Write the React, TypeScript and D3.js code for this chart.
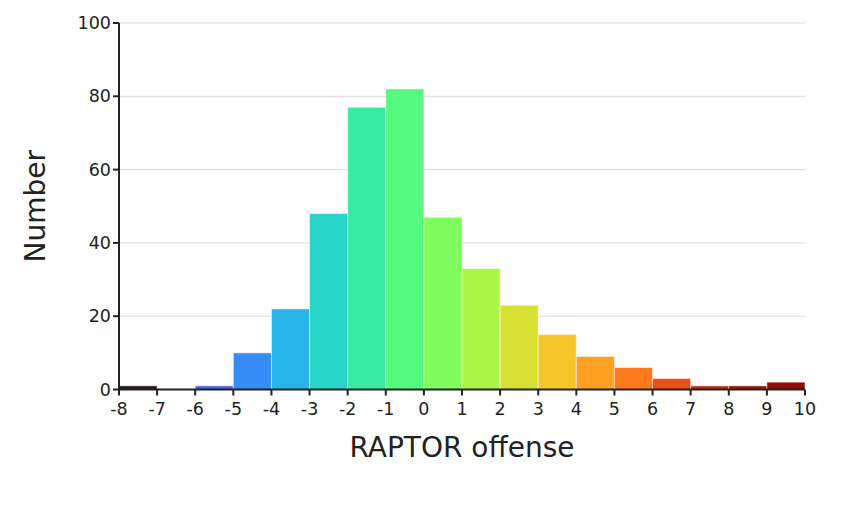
import React from "react";
import * as d3 from "d3";

const binStarts = [-8, -7, -6, -5, -4, -3, -2, -1, 0, 1, 2, 3, 4, 5, 6, 7, 8, 9];
const counts = [1, 0, 1, 10, 22, 48, 77, 82, 47, 33, 23, 15, 9, 6, 3, 1, 1, 2];
const xTicks = d3.range(-8, 11);
const yTicks = [0, 20, 40, 60, 80, 100];

const W = 853, H = 505;
const left = 119, right = 805, top = 23, bottom = 389.5;
const font = "DejaVu Sans, sans-serif";

export default function App() {
  const x = d3.scaleLinear().domain([-8, 10]).range([left, right]);
  const y = d3.scaleLinear().domain([0, 100]).range([bottom, top]);
  const color = (i: number) => d3.interpolateTurbo(i / (binStarts.length - 1));
  return (
    <svg width={W} height={H} style={{ position: "absolute", left: 0, top: 0 }}>
      <rect width={W} height={H} fill="#fff" />
      {yTicks.map((t) => (
        <line key={"g" + t} x1={left} x2={right} y1={y(t)} y2={y(t)} stroke="#d9d9d9" strokeWidth={1} />
      ))}
      {binStarts.map((b, i) => (
        <rect
          key={b}
          x={x(b)}
          width={x(b + 1) - x(b)}
          y={y(counts[i])}
          height={y(0) - y(counts[i])}
          fill={color(i)}
          stroke="rgba(255,255,255,0.5)"
          strokeWidth={1}
        />
      ))}
      <line x1={left} x2={right} y1={bottom} y2={bottom} stroke="#222" strokeWidth={2} />
      <line x1={left} x2={left} y1={top} y2={bottom} stroke="#222" strokeWidth={2} />
      {xTicks.map((t) => (
        <g key={"x" + t}>
          <line x1={x(t)} x2={x(t)} y1={bottom} y2={bottom + 6} stroke="#222" strokeWidth={2} />
          <text x={x(t)} y={bottom + 25} textAnchor="middle" fontFamily={font} fontSize={17.5} fill="#222">
            {t}
          </text>
        </g>
      ))}
      {yTicks.map((t) => (
        <g key={"y" + t}>
          <line x1={left - 6} x2={left} y1={y(t)} y2={y(t)} stroke="#222" strokeWidth={2} />
          <text x={left - 8} y={y(t)} dy="0.35em" textAnchor="end" fontFamily={font} fontSize={17.5} fill="#222">
            {t}
          </text>
        </g>
      ))}
      <text x={(left + right) / 2} y={457} textAnchor="middle" fontFamily={font} fontSize={28} fill="#222">
        RAPTOR offense
      </text>
      <text
        transform={`translate(45, ${(top + bottom) / 2}) rotate(-90)`}
        textAnchor="middle"
        fontFamily={font}
        fontSize={28}
        fill="#222"
      >
        Number
      </text>
    </svg>
  );
}
